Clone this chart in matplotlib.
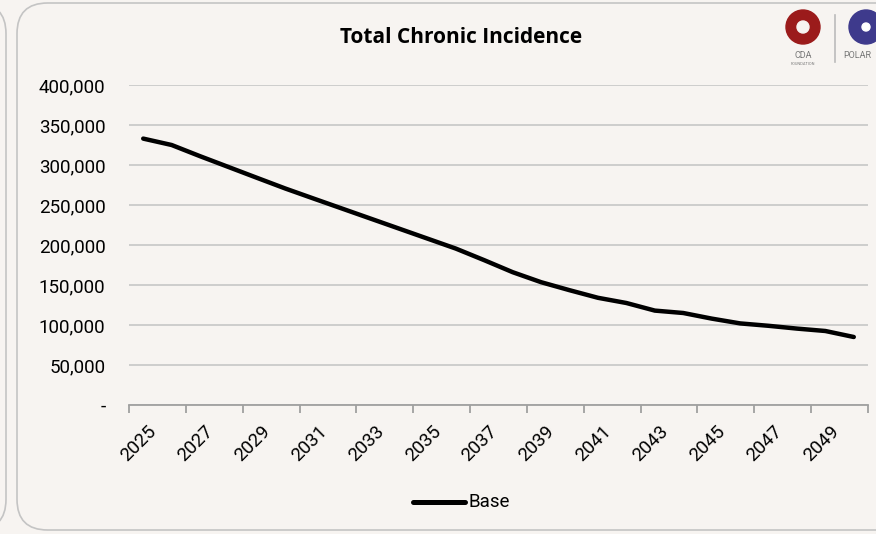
import matplotlib.pyplot as plt
from matplotlib.patches import FancyBboxPatch, Ellipse
from matplotlib.lines import Line2D
from matplotlib.ticker import FuncFormatter, FixedLocator

years = list(range(2025, 2051))
base = [333000, 325000, 311000, 297500, 284000, 270600, 258000, 245500, 233000,
        220500, 208000, 195500, 181000, 166000, 153500, 143500, 134000, 127500,
        118000, 115000, 108000, 102000, 99000, 95500, 92500, 85000]
tick_years = list(range(2025, 2050, 2))

W, H = 876, 534
bg = "#F7F4F1"
plt.rcParams['font.family'] = ['Roboto', 'DejaVu Sans']

fig = plt.figure(figsize=(W / 100, H / 100), dpi=100)
fig.patch.set_facecolor(bg)


def fx(px):
    return px / W


def fy(py):
    return 1 - py / H


# card outlines
for x0, x1 in [(-300, 6), (17, 1200)]:
    card = FancyBboxPatch((fx(x0), fy(530)), fx(x1) - fx(x0), fy(3) - fy(530),
                          boxstyle="round,pad=0,rounding_size=0.035",
                          transform=fig.transFigure, facecolor=bg,
                          edgecolor="#C4C4C4", linewidth=1.2, mutation_aspect=W / H,
                          zorder=-5)
    fig.add_artist(card)

ax = fig.add_axes([fx(129), fy(405), fx(868) - fx(129), fy(85) - fy(405)])
ax.set_zorder(5)
ax.set_facecolor("none")

xs = list(range(len(years)))
ax.plot(xs, base, color="black", linewidth=3.2, solid_capstyle="round",
        solid_joinstyle="round", zorder=3)

ax.set_xlim(-0.5, len(years) - 0.5)
ax.set_ylim(0, 400000)
ax.set_yticks(range(0, 400001, 50000))
ax.yaxis.set_major_formatter(FuncFormatter(lambda v, p: "-" if v == 0 else f"{v:,.0f}"))
ax.grid(axis="y", color="#CACACA", linewidth=1.3)
ax.set_axisbelow(True)

# tick marks at category boundaries every 2, labels at category centres
ax.xaxis.set_major_locator(FixedLocator([-0.5 + 2 * k for k in range(14)]))
ax.xaxis.set_major_formatter(FuncFormatter(lambda v, p: ""))
ax.tick_params(axis="x", which="major", length=6, width=1.3, color="#A0A0A0", direction="out")
for i, yr in enumerate(years):
    if yr in tick_years:
        ax.text(i + 0.15, -22000, str(yr), rotation=45, ha="right", va="top",
                rotation_mode="anchor", fontsize=13.5, color="black")

ax.tick_params(axis="y", length=0, pad=17, labelsize=13.5, labelcolor="black")
for s in ["top", "right", "left"]:
    ax.spines[s].set_visible(False)
ax.spines["bottom"].set_color("#A0A0A0")
ax.spines["bottom"].set_linewidth(1.3)

fig.text(fx(461), fy(37), "Total Chronic Incidence", ha="center", va="center",
         fontsize=15, fontweight="bold", color="black", family=["Open Sans", "DejaVu Sans"])

# legend
fig.add_artist(Line2D([fx(413), fx(465)], [fy(502), fy(502)], color="black",
                      linewidth=3.6, solid_capstyle="round", transform=fig.transFigure))
fig.text(fx(468), fy(502), "Base", ha="left", va="center", fontsize=13.5, color="black")

# logos
fig.add_artist(Ellipse((fx(803), fy(27)), 34 / W, 34 / H, color="#9B1B1B",
                       transform=fig.transFigure))
fig.add_artist(Ellipse((fx(803), fy(27)), 12 / W, 12 / H, color=bg,
                       transform=fig.transFigure))
fig.text(fx(803), fy(56), "CDA", ha="center", va="center", fontsize=6.5, color="#777777")
fig.text(fx(803), fy(64), "FOUNDATION", ha="center", va="center", fontsize=2.8, color="#777777")
fig.add_artist(Line2D([fx(835), fx(835)], [fy(15), fy(62)], color="#BBBBBB",
                      linewidth=1.2, transform=fig.transFigure))
fig.add_artist(Ellipse((fx(866), fy(27)), 34 / W, 34 / H, color="#3E3A8C",
                       transform=fig.transFigure))
fig.add_artist(Ellipse((fx(866), fy(27)), 8 / W, 8 / H, color="white",
                       transform=fig.transFigure))
fig.text(fx(843), fy(56), "POLAR", ha="left", va="center", fontsize=6.5, color="#777777")

fig.savefig("out.png", dpi=100, facecolor=bg)
